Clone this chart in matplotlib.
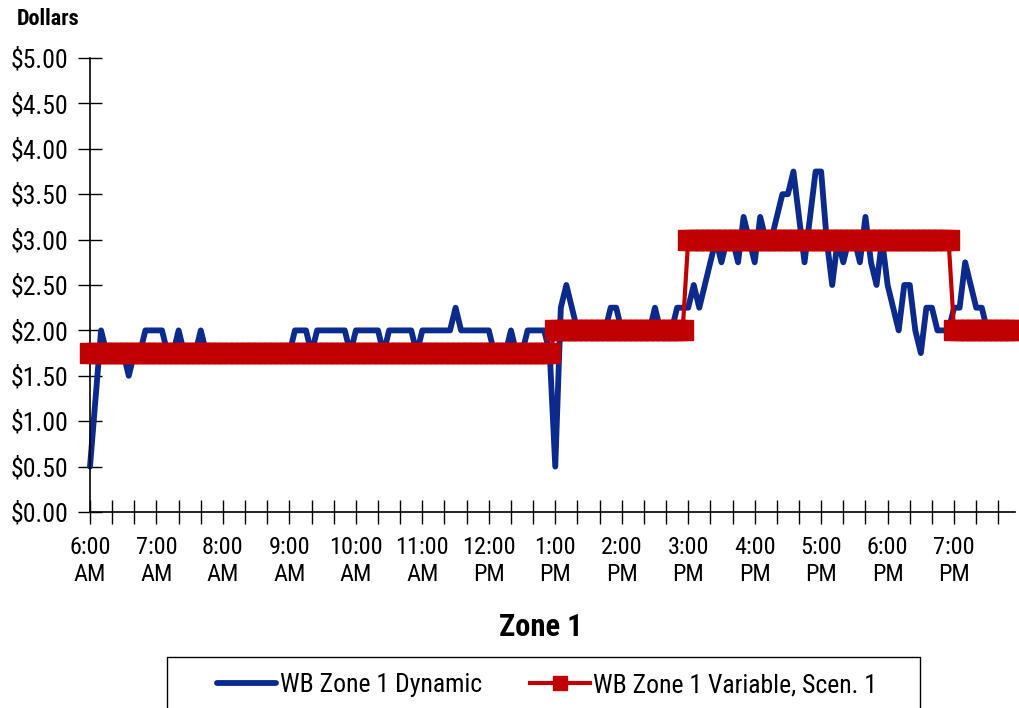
import numpy as np
import pandas as pd
import matplotlib
matplotlib.use('Agg')
import matplotlib.pyplot as plt
from matplotlib.patches import Rectangle
from matplotlib.ticker import FuncFormatter

plt.rcParams['font.family'] = ['Roboto Condensed', 'Archivo Narrow', 'Liberation Sans Narrow',
                               'Liberation Sans', 'DejaVu Sans']

# 5-minute intervals, 6:00 AM .. 7:55 PM
times = pd.date_range('2000-01-01 06:00', '2000-01-01 19:55', freq='5min')

# one row per hour (12 x 5 min)
dynamic = [
    0.50, 1.25, 2.00, 1.75, 1.75, 1.75, 1.75, 1.50, 1.75, 1.75, 2.00, 2.00,  # 6 AM
    2.00, 2.00, 1.75, 1.75, 2.00, 1.75, 1.75, 1.75, 2.00, 1.75, 1.75, 1.75,  # 7 AM
    1.75, 1.75, 1.75, 1.75, 1.75, 1.75, 1.75, 1.75, 1.75, 1.75, 1.75, 1.75,  # 8 AM
    1.75, 2.00, 2.00, 2.00, 1.75, 2.00, 2.00, 2.00, 2.00, 2.00, 2.00, 1.75,  # 9 AM
    2.00, 2.00, 2.00, 2.00, 2.00, 1.75, 2.00, 2.00, 2.00, 2.00, 2.00, 1.75,  # 10 AM
    2.00, 2.00, 2.00, 2.00, 2.00, 2.00, 2.25, 2.00, 2.00, 2.00, 2.00, 2.00,  # 11 AM
    2.00, 1.75, 1.75, 1.75, 2.00, 1.75, 1.75, 2.00, 2.00, 2.00, 2.00, 1.75,  # 12 PM
    0.50, 2.25, 2.50, 2.25, 2.00, 2.00, 2.00, 2.00, 2.00, 2.00, 2.25, 2.25,  # 1 PM
    2.00, 2.00, 2.00, 2.00, 2.00, 2.00, 2.25, 2.00, 2.00, 2.00, 2.25, 2.25,  # 2 PM
    2.25, 2.50, 2.25, 2.50, 2.75, 3.00, 2.75, 3.00, 3.00, 2.75, 3.25, 3.00,  # 3 PM
    2.75, 3.25, 3.00, 3.00, 3.25, 3.50, 3.50, 3.75, 3.25, 2.75, 3.25, 3.75,  # 4 PM
    3.75, 3.00, 2.50, 3.00, 2.75, 3.00, 3.00, 2.75, 3.25, 2.75, 2.50, 3.00,  # 5 PM
    2.50, 2.25, 2.00, 2.50, 2.50, 2.00, 1.75, 2.25, 2.25, 2.00, 2.00, 2.00,  # 6 PM
    2.25, 2.25, 2.75, 2.50, 2.25, 2.25, 2.00, 2.00, 2.00, 2.00, 2.00, 2.00,  # 7 PM
]

variable = [
    1.75, 1.75, 1.75, 1.75, 1.75, 1.75, 1.75, 1.75, 1.75, 1.75, 1.75, 1.75,
    1.75, 1.75, 1.75, 1.75, 1.75, 1.75, 1.75, 1.75, 1.75, 1.75, 1.75, 1.75,
    1.75, 1.75, 1.75, 1.75, 1.75, 1.75, 1.75, 1.75, 1.75, 1.75, 1.75, 1.75,
    1.75, 1.75, 1.75, 1.75, 1.75, 1.75, 1.75, 1.75, 1.75, 1.75, 1.75, 1.75,
    1.75, 1.75, 1.75, 1.75, 1.75, 1.75, 1.75, 1.75, 1.75, 1.75, 1.75, 1.75,
    1.75, 1.75, 1.75, 1.75, 1.75, 1.75, 1.75, 1.75, 1.75, 1.75, 1.75, 1.75,
    1.75, 1.75, 1.75, 1.75, 1.75, 1.75, 1.75, 1.75, 1.75, 1.75, 1.75, 1.75,
    2.00, 2.00, 2.00, 2.00, 2.00, 2.00, 2.00, 2.00, 2.00, 2.00, 2.00, 2.00,
    2.00, 2.00, 2.00, 2.00, 2.00, 2.00, 2.00, 2.00, 2.00, 2.00, 2.00, 2.00,
    3.00, 3.00, 3.00, 3.00, 3.00, 3.00, 3.00, 3.00, 3.00, 3.00, 3.00, 3.00,
    3.00, 3.00, 3.00, 3.00, 3.00, 3.00, 3.00, 3.00, 3.00, 3.00, 3.00, 3.00,
    3.00, 3.00, 3.00, 3.00, 3.00, 3.00, 3.00, 3.00, 3.00, 3.00, 3.00, 3.00,
    3.00, 3.00, 3.00, 3.00, 3.00, 3.00, 3.00, 3.00, 3.00, 3.00, 3.00, 3.00,
    2.00, 2.00, 2.00, 2.00, 2.00, 2.00, 2.00, 2.00, 2.00, 2.00, 2.00, 2.00,
]

names = ['WB Zone 1 Dynamic', 'WB Zone 1 Variable, Scen. 1']
blue = '#0B2A8C'
red = '#C00000'

x = np.arange(len(times))

fig = plt.figure(figsize=(10.19, 7.08), dpi=100)
ax = fig.add_axes([90/1019, 1-512/708, (1015-90)/1019, (512-58)/708])

l1, = ax.plot(x, dynamic, color=blue, lw=4.2, solid_joinstyle='round',
              solid_capstyle='round', zorder=2, clip_on=False)
l2, = ax.plot(x, variable, color=red, lw=3, marker='s', ms=14,
              mfc=red, mec=red, zorder=3, clip_on=False)

ax.set_xlim(0, len(x) - 1)
ax.set_ylim(0, 5)

# tick every 20 min, label every hour
xt = x[::4]
xl = [t.strftime('%I:%M\n%p').lstrip('0') if t.minute == 0 else '' for t in times[::4]]
ax.set_xticks(xt)
ax.set_xticklabels(xl, fontsize=17.5)
ax.set_yticks(np.arange(0, 5.01, 0.5))
ax.yaxis.set_major_formatter(FuncFormatter(lambda v, p: '${:.2f}'.format(v)))

ax.tick_params(axis='both', direction='inout', length=17, width=1, color='black')
ax.tick_params(axis='x', pad=9)
ax.tick_params(axis='y', pad=7, labelsize=18.5)

for s in ['top', 'right']:
    ax.spines[s].set_visible(False)
for s in ['left', 'bottom']:
    ax.spines[s].set_linewidth(1.2)
    ax.spines[s].set_color('black')

fig.text(17/1019, 1-19/708, 'Dollars', ha='left', va='center', fontsize=16, weight='bold')
fig.text(541/1019, 1-627/708, 'Zone 1', ha='center', va='center', fontsize=22, weight='bold')

fig.legend([l1, l2], names, loc='center', bbox_to_anchor=(547/1019, 1-685/708),
           ncol=2, frameon=False, fontsize=18.5, handlelength=2.3,
           columnspacing=1.9, handletextpad=0.15, markerscale=0.7)
fig.add_artist(Rectangle((167/1019, -0.05), (920-167)/1019, 0.05 + (708-657)/708,
                         transform=fig.transFigure, fill=False, ec='black', lw=1))

fig.savefig('out.png', dpi=100)
